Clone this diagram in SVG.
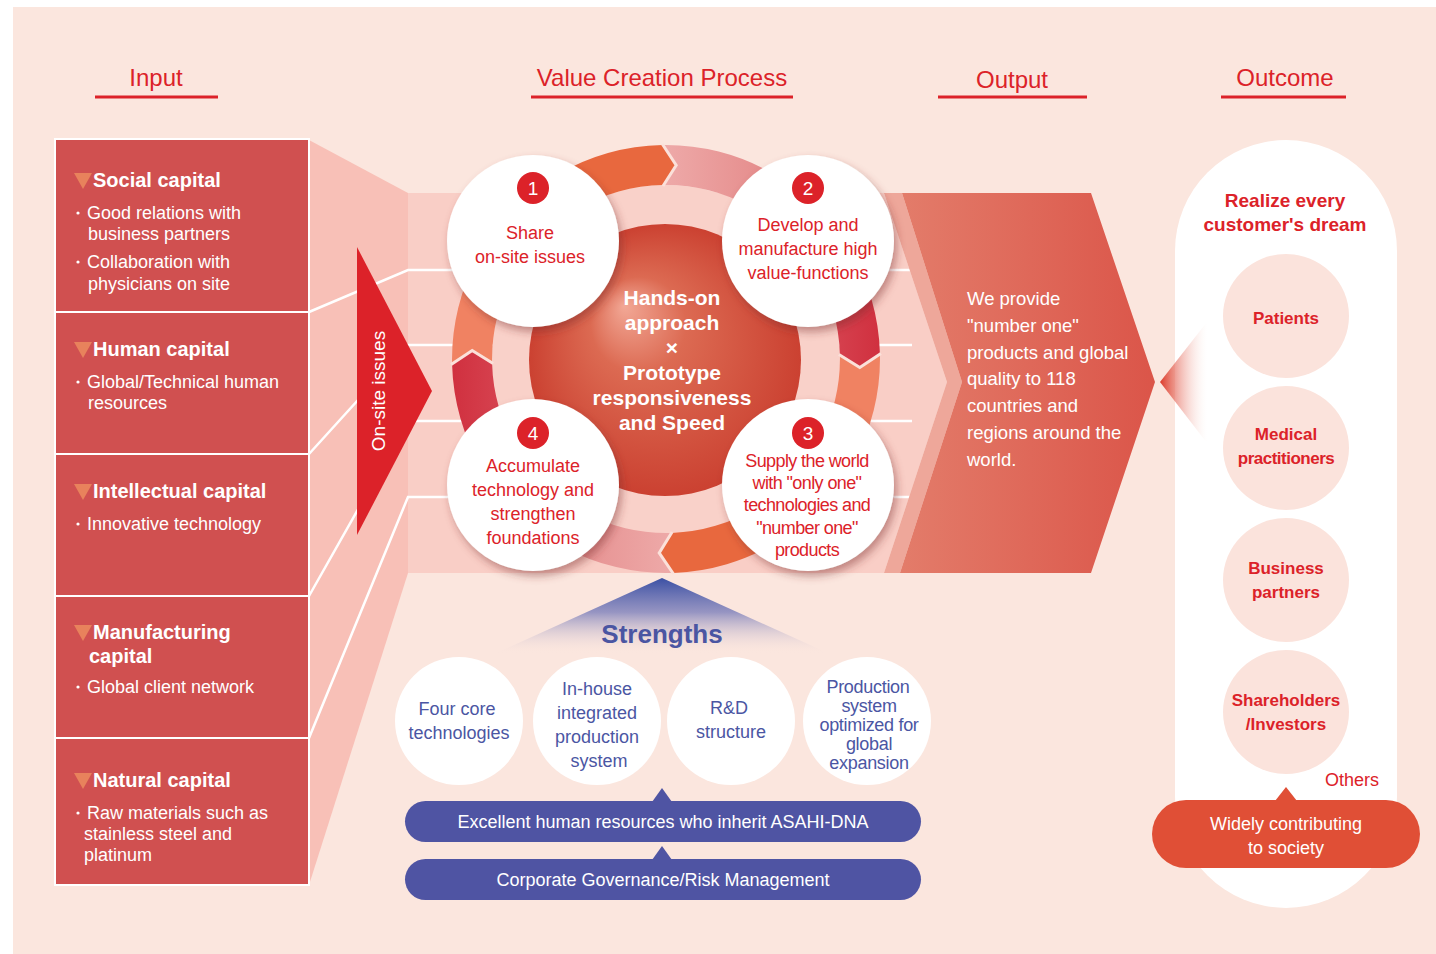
<svg xmlns="http://www.w3.org/2000/svg" width="1436" height="954" viewBox="0 0 1436 954">
<style>
text{font-family:"Liberation Sans",Arial,sans-serif}
.hdr{font-size:24px;fill:#dc2229;text-anchor:middle}
.uline{stroke:#dc2229;stroke-width:3}
.box{fill:#d05050;stroke:#fff;stroke-width:2}
.mark{fill:#e8825c}
.ct{font-size:20px;font-weight:bold;fill:#fff}
.cb{font-size:18px;fill:#fff}
.dot{fill:#fff}
.wl{stroke:#fff;stroke-width:2.5;fill:none}
.step{fill:#fff;filter:url(#sh)}
.badge{fill:#dc2229}
.num{font-size:19px;fill:#fff;text-anchor:middle}
.st{font-size:18px;fill:#dc2229;text-anchor:middle}
.sph{font-size:21px;font-weight:bold;fill:#fff;text-anchor:middle}
.out{font-size:18.5px;fill:#fff}
.sc{fill:#fff}
.sg{font-size:18px;fill:#4b56a3;text-anchor:middle}
.pill{fill:#4f54a3}
.pt{font-size:18px;fill:#fff;text-anchor:middle}
.oc{fill:#fbe3dc}
.ot{font-size:17px;font-weight:bold;fill:#dc2229;text-anchor:middle}
</style>
<defs>
<filter id="sh" x="-20%" y="-20%" width="150%" height="150%">
<feDropShadow dx="3" dy="5" stdDeviation="4" flood-color="#7a2a2a" flood-opacity="0.45"/>
</filter>
<radialGradient id="sphG" cx="0.5" cy="0.5" r="0.5" fx="0.35" fy="0.3">
<stop offset="0" stop-color="#f2a896"/>
<stop offset="0.35" stop-color="#dc6a52"/>
<stop offset="1" stop-color="#cb4131"/>
</radialGradient>
<linearGradient id="outG" x1="0" y1="0" x2="1" y2="0">
<stop offset="0" stop-color="#e37c6a"/>
<stop offset="1" stop-color="#db5549"/>
</linearGradient>
<linearGradient id="topPink" x1="0" y1="0" x2="1" y2="0">
<stop offset="0" stop-color="#eeaaa9"/>
<stop offset="1" stop-color="#de7474"/>
</linearGradient>
<linearGradient id="botPink" x1="1" y1="0" x2="0" y2="0">
<stop offset="0" stop-color="#eeaaa9"/>
<stop offset="1" stop-color="#de7878"/>
</linearGradient>
<linearGradient id="redR" x1="0" y1="0" x2="1" y2="0">
<stop offset="0" stop-color="#e0606a"/>
<stop offset="1" stop-color="#d0303f"/>
</linearGradient>
<linearGradient id="redL" x1="1" y1="0" x2="0" y2="0">
<stop offset="0" stop-color="#e0606a"/>
<stop offset="1" stop-color="#d0303f"/>
</linearGradient>
<linearGradient id="blueG" x1="0" y1="0" x2="0" y2="1">
<stop offset="0" stop-color="#3b50a4"/>
<stop offset="0.45" stop-color="#7d80bb" stop-opacity="0.8"/>
<stop offset="1" stop-color="#fbe6de" stop-opacity="0"/>
</linearGradient>
<linearGradient id="fadeG" x1="0" y1="0" x2="1" y2="0">
<stop offset="0" stop-color="#dc3a2a"/>
<stop offset="1" stop-color="#fbe6de" stop-opacity="0"/>
</linearGradient>
</defs>

<rect x="13" y="7" width="1423" height="947" fill="#fbe6de"/>

<g id="headers">
<text class="hdr" x="156" y="86">Input</text>
<line class="uline" x1="95" y1="97" x2="218" y2="97"/>
<text class="hdr" x="662" y="86">Value Creation Process</text>
<line class="uline" x1="531" y1="97" x2="793" y2="97"/>
<text class="hdr" x="1012" y="88">Output</text>
<line class="uline" x1="938" y1="97" x2="1087" y2="97"/>
<text class="hdr" x="1285" y="86">Outcome</text>
<line class="uline" x1="1221" y1="97" x2="1346" y2="97"/>
</g>

<g id="funnel">
<polygon points="309,140 408,193 408,573 309,885" fill="#f8c0b7"/>
<polygon points="408,193 884,193 947,382 884,573 408,573" fill="#f9cec6"/>
<polyline class="wl" points="309,312 408,270 912,270"/>
<polyline class="wl" points="309,454 408,345 912,345"/>
<polyline class="wl" points="309,596 408,421 912,421"/>
<polyline class="wl" points="309,738 408,497 912,497"/>
</g>

<g id="input-social">
<rect class="box" x="55" y="139" width="254" height="173"/>
<polygon class="mark" points="74,173 92,173 83,189"/>
<text class="ct" x="93" y="187">Social capital</text>
<circle class="dot" cx="78" cy="213" r="1.6"/>
<text class="cb" x="87" y="219">Good relations with</text>
<text class="cb" x="88" y="240">business partners</text>
<circle class="dot" cx="78" cy="262" r="1.6"/>
<text class="cb" x="87" y="268">Collaboration with</text>
<text class="cb" x="88" y="290">physicians on site</text>
</g>
<g id="input-human">
<rect class="box" x="55" y="312" width="254" height="142"/>
<polygon class="mark" points="74,342 92,342 83,358"/>
<text class="ct" x="93" y="356">Human capital</text>
<circle class="dot" cx="78" cy="382" r="1.6"/>
<text class="cb" x="87" y="388">Global/Technical human</text>
<text class="cb" x="88" y="409">resources</text>
</g>
<g id="input-intellectual">
<rect class="box" x="55" y="454" width="254" height="142"/>
<polygon class="mark" points="74,484 92,484 83,500"/>
<text class="ct" x="93" y="498">Intellectual capital</text>
<circle class="dot" cx="78" cy="524" r="1.6"/>
<text class="cb" x="87" y="530">Innovative technology</text>
</g>
<g id="input-manufacturing">
<rect class="box" x="55" y="596" width="254" height="142"/>
<polygon class="mark" points="74,625 92,625 83,641"/>
<text class="ct" x="93" y="639">Manufacturing</text>
<text class="ct" x="89" y="663">capital</text>
<circle class="dot" cx="78" cy="687" r="1.6"/>
<text class="cb" x="87" y="693">Global client network</text>
</g>
<g id="input-natural">
<rect class="box" x="55" y="738" width="254" height="147"/>
<polygon class="mark" points="74,773 92,773 83,789"/>
<text class="ct" x="93" y="787">Natural capital</text>
<circle class="dot" cx="78" cy="813" r="1.6"/>
<text class="cb" x="87" y="819">Raw materials such as</text>
<text class="cb" x="84" y="840">stainless steel and</text>
<text class="cb" x="84" y="861">platinum</text>
</g>

<g id="connectors">
<polygon points="884,193 902,193 962,382 900,573 884,573 947,382" fill="#eea79a"/>
<polygon points="902,193 1091,193 1155,382 1091,573 900,573 962,382" fill="url(#outG)"/>
<polygon points="357,247 432,391 357,535" fill="#dc2229"/>
<text x="385" y="391" transform="rotate(-90 385 391)" font-size="19" fill="#fff" text-anchor="middle">On-site issues</text>
<circle cx="666" cy="359" r="174" fill="#f9d1c9"/>
<path d="M662.3,145 A214,214 0 0 1 851.3,252 L816.7,272 A174,174 0 0 0 663,185 Z" fill="url(#topPink)"/>
<path d="M480.7,252 A214,214 0 0 1 662.3,145 L676.2,165.3 L663,185 A174,174 0 0 0 515.3,272 Z" fill="#e8683e"/>
<polyline points="662.3,144 676.2,165.3 663,186" fill="none" stroke="#fbe1da" stroke-width="3"/>
<path d="M879.9,353.4 A214,214 0 0 1 773,544.3 L753,509.7 A174,174 0 0 0 839.9,354.4 Z" fill="#f08262"/>
<path d="M773,173.7 A214,214 0 0 1 879.9,353.4 L859.8,367.5 L839.9,354.4 A174,174 0 0 0 753,208.3 Z" fill="url(#redR)"/>
<polyline points="880.9,353.4 859.8,367.5 838.9,354.4" fill="none" stroke="#fbe1da" stroke-width="3"/>
<path d="M673.5,572.9 A214,214 0 0 1 480.7,466 L515.3,446 A174,174 0 0 0 672.1,532.9 Z" fill="url(#botPink)"/>
<path d="M851.3,466 A214,214 0 0 1 673.5,572.9 L659.2,552.9 L672.1,532.9 A174,174 0 0 0 816.7,446 Z" fill="#e8683e"/>
<polyline points="673.5,574 659.2,552.9 672.1,532" fill="none" stroke="#fbe1da" stroke-width="3"/>
<path d="M452.1,364.6 A214,214 0 0 1 559,173.7 L579,208.3 A174,174 0 0 0 492.1,363.6 Z" fill="#f08262"/>
<path d="M559,544.3 A214,214 0 0 1 452.1,364.6 L472.2,350.5 L492.1,363.6 A174,174 0 0 0 579,509.7 Z" fill="url(#redL)"/>
<polyline points="451.1,364.6 472.2,350.5 493.1,363.6" fill="none" stroke="#fbe1da" stroke-width="3"/>
</g>

<g id="core">
<circle cx="665" cy="360" r="136" fill="url(#sphG)"/>
<text class="sph" x="672" y="305">Hands-on</text>
<text class="sph" x="672" y="330">approach</text>
<text class="sph" x="672" y="355">×</text>
<text class="sph" x="672" y="380">Prototype</text>
<text class="sph" x="672" y="405">responsiveness</text>
<text class="sph" x="672" y="430">and Speed</text>
</g>

<g id="step1">
<circle class="step" cx="533" cy="241" r="86"/>
<circle class="badge" cx="533" cy="188" r="16"/>
<text class="num" x="533" y="195">1</text>
<text class="st" x="530" y="239">Share</text>
<text class="st" x="530" y="263">on-site issues</text>
</g>
<g id="step2">
<circle class="step" cx="808" cy="241" r="86"/>
<circle class="badge" cx="808" cy="188" r="16"/>
<text class="num" x="808" y="195">2</text>
<text class="st" x="808" y="231" font-size="17.5">Develop and</text>
<text class="st" x="808" y="255" font-size="17.5">manufacture high</text>
<text class="st" x="808" y="279" font-size="17.5">value-functions</text>
</g>
<g id="step3">
<circle class="step" cx="808" cy="485" r="86"/>
<circle class="badge" cx="808" cy="433" r="16"/>
<text class="num" x="808" y="440">3</text>
<text class="st" x="807" y="467" font-size="17" letter-spacing="-0.6">Supply the world</text>
<text class="st" x="807" y="489" font-size="17" letter-spacing="-0.6">with "only one"</text>
<text class="st" x="807" y="511" font-size="17" letter-spacing="-0.6">technologies and</text>
<text class="st" x="807" y="534" font-size="17" letter-spacing="-0.6">"number one"</text>
<text class="st" x="807" y="556" font-size="17" letter-spacing="-0.6">products</text>
</g>
<g id="step4">
<circle class="step" cx="533" cy="485" r="86"/>
<circle class="badge" cx="533" cy="433" r="16"/>
<text class="num" x="533" y="440">4</text>
<text class="st" x="533" y="472">Accumulate</text>
<text class="st" x="533" y="496">technology and</text>
<text class="st" x="533" y="520">strengthen</text>
<text class="st" x="533" y="544">foundations</text>
</g>

<g id="output">
<text class="out" x="967" y="305">We provide</text>
<text class="out" x="967" y="332">"number one"</text>
<text class="out" x="967" y="359">products and global</text>
<text class="out" x="967" y="385">quality to 118</text>
<text class="out" x="967" y="412">countries and</text>
<text class="out" x="967" y="439">regions around the</text>
<text class="out" x="967" y="466">world.</text>
</g>

<g id="strengths">
<polygon points="662,578 494,654 830,654" fill="url(#blueG)"/>
<text x="662" y="643" font-size="26" font-weight="bold" fill="#4a55a2" text-anchor="middle">Strengths</text>
</g>
<g id="strength-four-core">
<circle class="sc" cx="459" cy="721" r="64"/>
<text class="sg" x="457" y="715">Four core</text>
<text class="sg" x="459" y="739">technologies</text>
</g>
<g id="strength-inhouse">
<circle class="sc" cx="597" cy="721" r="64"/>
<text class="sg" x="597" y="695">In-house</text>
<text class="sg" x="597" y="719">integrated</text>
<text class="sg" x="597" y="743">production</text>
<text class="sg" x="599" y="767">system</text>
</g>
<g id="strength-rd">
<circle class="sc" cx="731" cy="721" r="64"/>
<text class="sg" x="729" y="714">R&amp;D</text>
<text class="sg" x="731" y="738">structure</text>
</g>
<g id="strength-production">
<circle class="sc" cx="867" cy="721" r="64"/>
<text class="sg" x="868" y="693" font-size="15.5" letter-spacing="-0.3">Production</text>
<text class="sg" x="869" y="712" font-size="15.5" letter-spacing="-0.3">system</text>
<text class="sg" x="869" y="731" font-size="15.5" letter-spacing="-0.3">optimized for</text>
<text class="sg" x="869" y="750" font-size="15.5" letter-spacing="-0.3">global</text>
<text class="sg" x="869" y="769" font-size="15.5" letter-spacing="-0.3">expansion</text>
</g>
<g id="human-resources">
<polygon class="pill" points="652,802 662,788 672,802"/>
<rect class="pill" x="405" y="801" width="516" height="41" rx="20.5"/>
<text class="pt" x="663" y="828">Excellent human resources who inherit ASAHI-DNA</text>
</g>
<g id="governance">
<polygon class="pill" points="652,860 662,846 672,860"/>
<rect class="pill" x="405" y="859" width="516" height="41" rx="20.5"/>
<text class="pt" x="663" y="886">Corporate Governance/Risk Management</text>
</g>

<g id="outcome">
<path d="M1175,251 A111,111 0 0 1 1397,251 L1397,797 A111,111 0 0 1 1175,797 Z" fill="#fff"/>
<text x="1285" y="207" font-size="19" font-weight="bold" fill="#dc2229" text-anchor="middle">Realize every</text>
<text x="1285" y="231" font-size="19" font-weight="bold" fill="#dc2229" text-anchor="middle">customer's dream</text>
</g>
<g id="outcome-arrow">
<polygon points="1160,382 1207,322 1207,443" fill="url(#fadeG)"/>
</g>
<g id="patients">
<ellipse class="oc" cx="1286" cy="316" rx="63" ry="62"/>
<text class="ot" x="1286" y="324">Patients</text>
</g>
<g id="medical">
<ellipse class="oc" cx="1286" cy="448" rx="63" ry="62"/>
<text class="ot" x="1286" y="440">Medical</text>
<text class="ot" x="1286" y="464" letter-spacing="-0.5">practitioners</text>
</g>
<g id="business">
<ellipse class="oc" cx="1286" cy="580" rx="63" ry="62"/>
<text class="ot" x="1286" y="574">Business</text>
<text class="ot" x="1286" y="598">partners</text>
</g>
<g id="shareholders">
<ellipse class="oc" cx="1286" cy="712" rx="63" ry="62"/>
<text class="ot" x="1286" y="706">Shareholders</text>
<text class="ot" x="1286" y="730">/Investors</text>
</g>
<g id="others">
<text x="1352" y="786" font-size="18" fill="#dc2229" text-anchor="middle">Others</text>
</g>
<g id="society">
<polygon points="1275,801 1286,787 1297,801" fill="#e04f36"/>
<rect x="1152" y="800" width="268" height="68" rx="34" fill="#e04f36"/>
<text class="pt" x="1286" y="830">Widely contributing</text>
<text class="pt" x="1286" y="854">to society</text>
</g>
</svg>
